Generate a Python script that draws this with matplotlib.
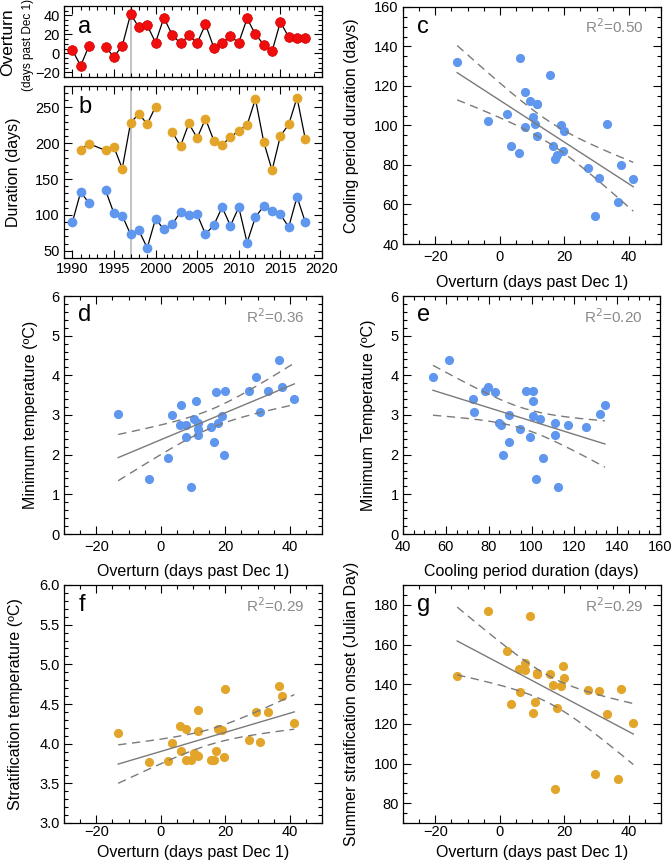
import numpy as np
import matplotlib
matplotlib.use("Agg")
import matplotlib.pyplot as plt
from matplotlib.ticker import MultipleLocator, FormatStrFormatter

plt.rcParams['font.family'] = ['Liberation Sans', 'DejaVu Sans']

# ---------------- data ----------------
years = np.array([1990, 1991, 1992, 1993, 1994, 1995, 1996, 1997, 1998, 1999,
                  2000, 2001, 2002, 2003, 2004, 2005, 2006, 2007, 2008, 2009,
                  2010, 2011, 2012, 2013, 2014, 2015, 2016, 2017, 2018], float)
nan = np.nan
overturn = np.array([3.6, -13.2, 7.9, nan, 6.4, -3.6, 7.9, 41.4, 27.5, 29.6,
                     11.4, 37.5, 19.6, 10.4, 18.9, 10.9, 30.7, 6.1, 11.4, 17.9,
                     11.4, 36.8, 20.0, 9.3, 2.1, 33.2, 17.1, 15.7, 16.4])
cooling = np.array([89.7, 131.9, 116.9, nan, 134.3, 102.3, 99.1, 72.8, 78.4, 54.0,
                    94.8, 79.8, 86.9, 104.2, 100.5, 100.9, 73.2, 85.9, 110.8, 85.0,
                    110.8, 61.5, 97.2, 112.2, 105.6, 100.9, 83.1, 125.4, 89.7])
min_temp = np.array([3.00, 3.02, 2.76, nan, 3.26, 1.39, 2.44, 3.40, 3.60, 3.97,
                     2.64, 3.70, 2.00, 2.90, 2.97, 3.36, 3.08, 2.75, 2.79, 2.80,
                     2.50, 4.39, 3.60, 1.19, 1.91, 3.60, 3.59, 2.70, 2.31])
strat_temp = np.array([4.01, 4.14, 4.19, nan, 3.91, 3.77, 3.79, 4.26, 4.04, 4.40,
                       4.16, 4.60, 3.83, 3.88, 4.17, 3.86, 4.02, 4.22, 4.42, 4.18,
                       3.85, 4.73, 4.69, 3.79, 3.78, 4.40, 3.91, 3.80, 3.80])
strat_onset = np.array([129.9, 143.9, 150.8, nan, 136.0, 176.8, 147.2, 120.3, 137.0, 94.8,
                        145.0, 137.8, 149.2, 125.7, 139.2, 131.1, 136.6, 147.4, 145.5, 128.2,
                        145.0, 92.3, 142.9, 174.5, 156.8, 125.0, 87.0, 145.2, 139.5])
# stratified-period duration (orange); record has no 1990 or 2001 value
strat_years = np.array([1991, 1992, 1994, 1995, 1996, 1997, 1998, 1999, 2000, 2001,
                        2002, 2003, 2004, 2005, 2006, 2007, 2008, 2009, 2010, 2011,
                        2012, 2013, 2014, 2015, 2016, 2017, 2018], float)
strat_duration = np.array([191.1, 199.5, 190.1, 194.8, 164.8, 228.6, 241.3, 226.8, 251.2, nan,
                           216.0, 196.2, 227.7, 207.5, 234.3, 203.8, 198.1, 208.5, 217.8, 225.4,
                           262.0, 201.9, 162.4, 210.3, 226.3, 263.8, 205.6])
marker_year = 1997
r2_labels = {'c': '0.50', 'd': '0.36', 'e': '0.20', 'f': '0.29', 'g': '0.29'}

# ---------------- style ----------------
RED = '#f00d0d'
BLUE = '#5f96ee'
ORANGE = '#e2a52a'
GREY = '#7a7a7a'
T95 = 2.06
W, H = 672, 861
TICK_FS = 10.5
LAB_FS = 11.5

fig = plt.figure(figsize=(W / 100, H / 100), dpi=100)


def add_ax(l, r, t, b):
    return fig.add_axes([l / W, 1 - b / H, (r - l) / W, (b - t) / H])


def style(ax, xmaj, xmin, ymaj, ymin, pad=3):
    ax.xaxis.set_major_locator(MultipleLocator(xmaj))
    ax.xaxis.set_minor_locator(MultipleLocator(xmin))
    ax.yaxis.set_major_locator(MultipleLocator(ymaj))
    ax.yaxis.set_minor_locator(MultipleLocator(ymin))
    ax.tick_params(which='both', direction='in', top=True, right=True,
                   labelsize=TICK_FS, width=0.8)
    ax.tick_params(axis='y', pad=3)
    ax.tick_params(axis='x', pad=pad)
    ax.tick_params(which='major', length=6)
    ax.tick_params(which='minor', length=3)
    for s in ax.spines.values():
        s.set_linewidth(0.9)


def letter(ax, txt, y=0.9):
    ax.text(0.055, y, txt, transform=ax.transAxes, fontsize=17,
            ha='left', va='center')


def r2(ax, val):
    ax.text(0.93, 0.915, 'R$^2$=' + val, transform=ax.transAxes, fontsize=11,
            color='#8a8a8a', ha='right', va='center')


def regress(ax, x, y):
    m = ~np.isnan(x) & ~np.isnan(y)
    x, y = x[m], y[m]
    n = len(x)
    b1, b0 = np.polyfit(x, y, 1)
    xs = np.linspace(x.min(), x.max(), 200)
    yh = b0 + b1 * xs
    s = np.sqrt(np.sum((y - (b0 + b1 * x)) ** 2) / (n - 2))
    sxx = np.sum((x - x.mean()) ** 2)
    se = s * np.sqrt(1.0 / n + (xs - x.mean()) ** 2 / sxx)
    ax.plot(xs, yh, color=GREY, lw=1.0, zorder=3)
    ax.plot(xs, yh + T95 * se, color=GREY, lw=1.0, dashes=(6, 4), zorder=3)
    ax.plot(xs, yh - T95 * se, color=GREY, lw=1.0, dashes=(6, 4), zorder=3)


def scatter(ax, x, y, color):
    ax.plot(x, y, 'o', color=color, markersize=6.6, markeredgewidth=0, zorder=2)


# ---------------- panel a ----------------
axa = add_ax(64, 322, 6, 77)
axa.axvline(marker_year, color='#b8b8b8', lw=1.2, zorder=1)
axa.plot(years, overturn, '-', color='black', lw=0.9, zorder=2)
axa.plot(years, overturn, 'o', color=RED, markersize=7, markeredgecolor='#d00000',
         markeredgewidth=0.5, zorder=3)
axa.set_xlim(1989, 2020)
axa.set_ylim(-25, 50)
style(axa, 5, 1, 20, 5)
axa.tick_params(labelbottom=False)
letter(axa, 'a', 0.7)
fig.text(8 / W, 1 - 42 / H, 'Overturn', rotation=90, fontsize=12.5,
         ha='center', va='center')
fig.text(28 / W, 1 - 45 / H, '(days past Dec 1)', rotation=90, fontsize=8.5,
         ha='center', va='center')

# ---------------- panel b ----------------
axb = add_ax(64, 322, 86, 258)
axb.axvline(marker_year, color='#b8b8b8', lw=1.2, zorder=1)
axb.plot(strat_years, strat_duration, '-', color='black', lw=0.9, zorder=2)
axb.plot(strat_years, strat_duration, 'o', color=ORANGE, markersize=7,
         markeredgewidth=0, zorder=3)
axb.plot(years, cooling, '-', color='black', lw=0.9, zorder=2)
axb.plot(years, cooling, 'o', color=BLUE, markersize=7, markeredgewidth=0, zorder=3)
axb.set_xlim(1989, 2020)
axb.set_ylim(40, 280)
style(axb, 5, 1, 50, 10)
axb.set_ylabel('Duration (days)', fontsize=LAB_FS)
axb.yaxis.set_label_coords(-0.165, 0.5)
letter(axb, 'b', 0.88)

# ---------------- panel c ----------------
axc = add_ax(403, 661, 7, 244)
scatter(axc, overturn, cooling, BLUE)
regress(axc, overturn, cooling)
axc.set_xlim(-30, 50)
axc.set_ylim(40, 160)
style(axc, 20, 5, 20, 5, pad=4.5)
axc.set_ylabel('Cooling period duration (days)', fontsize=LAB_FS)
axc.yaxis.set_label_coords(-0.17, 0.5)
axc.set_xlabel('Overturn (days past Dec 1)', fontsize=LAB_FS)
axc.xaxis.set_label_coords(0.5, -0.13)
letter(axc, 'c', 0.915)
r2(axc, r2_labels['c'])

# ---------------- panel d ----------------
axd = add_ax(64, 322, 296, 534)
scatter(axd, overturn, min_temp, BLUE)
regress(axd, overturn, min_temp)
axd.set_xlim(-30, 50)
axd.set_ylim(0, 6)
style(axd, 20, 5, 1, 0.2, pad=4.5)
axd.set_ylabel('Minimum temperature (ºC)', fontsize=LAB_FS)
axd.yaxis.set_label_coords(-0.1, 0.5)
axd.set_xlabel('Overturn (days past Dec 1)', fontsize=LAB_FS)
axd.xaxis.set_label_coords(0.5, -0.125)
letter(axd, 'd', 0.92)
r2(axd, r2_labels['d'])

# ---------------- panel e ----------------
axe = add_ax(403, 660, 296, 534)
scatter(axe, cooling, min_temp, BLUE)
regress(axe, cooling, min_temp)
axe.set_xlim(40, 160)
axe.set_ylim(0, 6)
style(axe, 20, 5, 1, 0.2, pad=4.5)
axe.set_ylabel('Minimum Temperature (ºC)', fontsize=LAB_FS)
axe.yaxis.set_label_coords(-0.105, 0.5)
axe.set_xlabel('Cooling period duration (days)', fontsize=LAB_FS)
axe.xaxis.set_label_coords(0.5, -0.125)
letter(axe, 'e', 0.92)
r2(axe, r2_labels['e'])

# ---------------- panel f ----------------
axf = add_ax(64, 322, 585, 823)
scatter(axf, overturn, strat_temp, ORANGE)
regress(axf, overturn, strat_temp)
axf.set_xlim(-30, 50)
axf.set_ylim(3.0, 6.0)
style(axf, 20, 5, 0.5, 0.1, pad=1.5)
axf.yaxis.set_major_formatter(FormatStrFormatter('%.1f'))
axf.set_ylabel('Stratification temperature (ºC)', fontsize=LAB_FS)
axf.yaxis.set_label_coords(-0.16, 0.5)
axf.set_xlabel('Overturn (days past Dec 1)', fontsize=LAB_FS)
axf.xaxis.set_label_coords(0.5, -0.093)
letter(axf, 'f', 0.915)
r2(axf, r2_labels['f'])

# ---------------- panel g ----------------
axg = add_ax(403, 661, 585, 823)
scatter(axg, overturn, strat_onset, ORANGE)
regress(axg, overturn, strat_onset)
axg.set_xlim(-30, 50)
axg.set_ylim(70, 190)
style(axg, 20, 5, 20, 5, pad=1.5)
axg.set_ylabel('Summer stratification onset (Julian Day)', fontsize=LAB_FS)
axg.yaxis.set_label_coords(-0.17, 0.5)
axg.set_xlabel('Overturn (days past Dec 1)', fontsize=LAB_FS)
axg.xaxis.set_label_coords(0.5, -0.093)
letter(axg, 'g', 0.915)
r2(axg, r2_labels['g'])

fig.savefig('out.png', dpi=100)
